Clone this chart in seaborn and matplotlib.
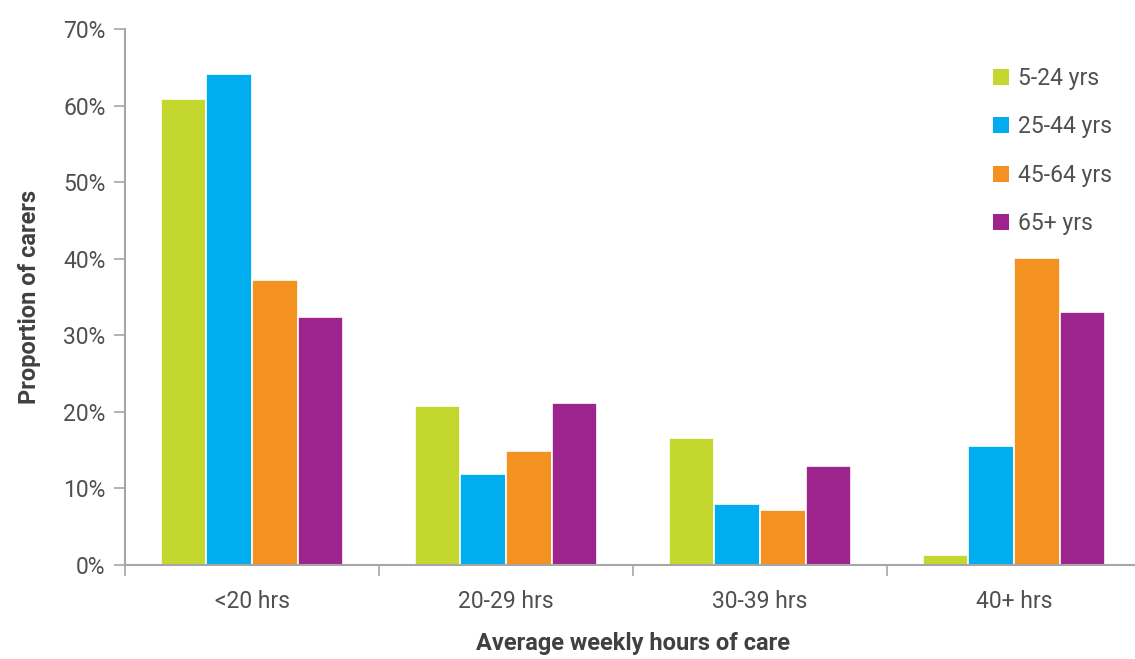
import numpy as np
import pandas as pd
import matplotlib
matplotlib.use("Agg")
import matplotlib.pyplot as plt
from matplotlib.ticker import FuncFormatter, FixedLocator
import seaborn as sns

categories = ["<20 hrs", "20-29 hrs", "30-39 hrs", "40+ hrs"]
age_groups = ["5-24 yrs", "25-44 yrs", "45-64 yrs", "65+ yrs"]
age_5_24 = [60.9, 20.8, 16.6, 1.3]
age_25_44 = [64.1, 11.9, 8.0, 15.5]
age_45_64 = [37.2, 14.9, 7.2, 40.1]
age_65_plus = [32.4, 21.2, 12.9, 33.0]
colors = ["#C3D72E", "#00AEEF", "#F39221", "#9E248D"]

series = [age_5_24, age_25_44, age_45_64, age_65_plus]
df = pd.DataFrame(
    [(c, g, v) for g, vals in zip(age_groups, series) for c, v in zip(categories, vals)],
    columns=["hours", "age", "value"],
)

sns.set_style("white")
plt.rcParams["font.family"] = ["Roboto", "DejaVu Sans"]

fig = plt.figure(figsize=(11.35, 6.59), dpi=100)
ax = fig.add_axes([125 / 1135, 94 / 659, 1016 / 1135, 536 / 659])

sns.barplot(
    data=df, x="hours", y="value", hue="age", order=categories,
    hue_order=age_groups, palette=colors, width=0.72, ax=ax,
    edgecolor="white", linewidth=1.2, saturation=1, legend=False,
)

ax.set_xlim(-0.5, 3.5)
ax.set_ylim(0, 70)
ax.set_yticks(np.arange(0, 71, 10))
ax.yaxis.set_major_formatter(FuncFormatter(lambda v, p: f"{int(v)}%"))

axis_grey = "#A6A6A6"
text_grey = "#505050"
for side in ["top", "right"]:
    ax.spines[side].set_visible(False)
for side in ["left", "bottom"]:
    ax.spines[side].set_color(axis_grey)
    ax.spines[side].set_linewidth(1.5)

ax.tick_params(axis="y", which="major", direction="out", length=8, width=1.2,
               color=axis_grey, labelsize=16.5, labelcolor=text_grey, pad=6, left=True)
ax.tick_params(axis="x", which="major", length=0, labelsize=16.5,
               labelcolor=text_grey, pad=18)
ax.xaxis.set_minor_locator(FixedLocator([-0.5, 0.5, 1.5, 2.5]))
ax.tick_params(axis="x", which="minor", direction="out", length=8, width=1.2,
               color=axis_grey, bottom=True)

ax.set_xlabel("Average weekly hours of care", fontsize=17, fontweight="bold",
              color="#404040", labelpad=14)
ax.set_ylabel("Proportion of carers", fontsize=17, fontweight="bold",
              color="#404040", labelpad=16)

handles = [plt.Rectangle((0, 0), 1, 1, facecolor=c, edgecolor="none") for c in colors]
leg = ax.legend(handles, age_groups, loc="upper left",
                bbox_to_anchor=(984 / 1135, 1 - 58 / 659), bbox_transform=fig.transFigure,
                frameon=False, fontsize=16.5, handlelength=0.7, handleheight=0.7,
                handletextpad=0.4, labelspacing=1.1, borderaxespad=0)
for t in leg.get_texts():
    t.set_color(text_grey)

fig.savefig("out.png", dpi=100)
